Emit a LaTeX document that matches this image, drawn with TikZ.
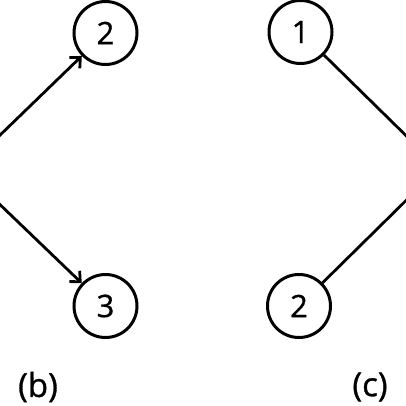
\documentclass[tikz,border=0pt]{standalone}
\usepackage{fontspec}
\setmainfont{Open Sans}
\newfontfamily\medsans{Open Sans}[FakeBold=0.9]
\usetikzlibrary{arrows.meta}
\tikzset{
  vtx/.style={circle,draw,line width=3pt,minimum size=63pt,inner sep=0pt,font=\medsans\fontsize{31}{31}\selectfont},
  edge/.style={line width=2.8pt},
  arr/.style={edge,-{Straight Barb[length=8pt,width=15pt,line width=2.8pt]}},
  captxt/.style={font=\medsans\fontsize{33}{33}\selectfont}
}
\begin{document}
\begin{tikzpicture}[x=1pt,y=-1pt]
\useasboundingbox (0,0) rectangle (406,406);
\clip (0,0) rectangle (406,406);
% panel (b)
\node[vtx] (b1) at (-36,170) {};
\node[vtx] (b2) at (105.5,33) {2};
\node[vtx] (b3) at (105.5,306) {3};
\draw[arr] (b1) -- (b2);
\draw[arr] (b1) -- (b3);
\node[captxt] (lb) at (38,387) {(b)};
% panel (c)
\node[vtx] (c1) at (300.5,32) {1};
\node[vtx] (c2) at (299,306) {2};
\node[vtx] (c3) at (439,168) {};
\draw[edge] (c1) -- (c3);
\draw[edge] (c2) -- (c3);
\node[captxt] (lc) at (370,387) {(c)};
\end{tikzpicture}
\end{document}
